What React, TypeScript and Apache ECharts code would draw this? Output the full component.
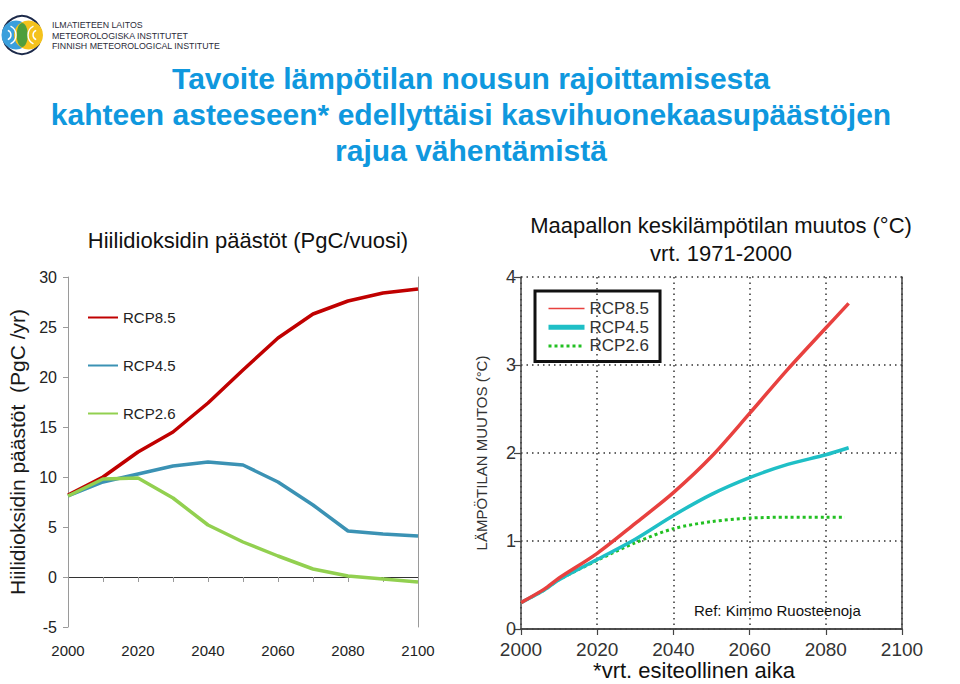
import React, { useEffect, useRef } from "react";
import * as echarts from "echarts";

// ---- Data ----
const emisYears = [2000, 2010, 2020, 2030, 2040, 2050, 2060, 2070, 2080, 2090, 2100];
const emisRcp85 = [8.2, 10.0, 12.5, 14.5, 17.4, 20.7, 23.9, 26.3, 27.6, 28.4, 28.8];
const emisRcp45 = [8.1, 9.5, 10.3, 11.1, 11.5, 11.2, 9.5, 7.2, 4.6, 4.3, 4.1];
const emisRcp26 = [8.1, 9.8, 9.9, 7.9, 5.2, 3.5, 2.1, 0.8, 0.1, -0.2, -0.5];

const tempYears = [2000, 2006, 2010, 2020, 2030, 2040, 2050, 2060, 2070, 2080, 2086];
const tempRcp85 = [0.3, 0.45, 0.58, 0.86, 1.2, 1.55, 1.96, 2.45, 2.95, 3.42, 3.7];
const tempRcp45 = [0.3, 0.44, 0.56, 0.79, 1.02, 1.29, 1.53, 1.72, 1.87, 1.98, 2.06];
const tempYears26 = [2000, 2006, 2010, 2020, 2030, 2040, 2050, 2060, 2070, 2080, 2085];
const tempRcp26 = [0.3, 0.44, 0.56, 0.78, 0.98, 1.14, 1.22, 1.26, 1.27, 1.27, 1.27];

const scenarioNames = ["RCP8.5", "RCP4.5", "RCP2.6"];

const titleLines = [
  "Tavoite lämpötilan nousun rajoittamisesta",
  "kahteen asteeseen* edellyttäisi kasvihuonekaasupäästöjen",
  "rajua vähentämistä",
];
const leftTitle = "Hiilidioksidin päästöt (PgC/vuosi)";
const rightTitle1 = "Maapallon keskilämpötilan muutos (°C)";
const rightTitle2 = "vrt. 1971-2000";
const leftYName = "Hiilidioksidin päästöt  (PgC /yr)";
const rightYName = "LÄMPÖTILAN MUUTOS (°C)";
const refText = "Ref: Kimmo Ruosteenoja";
const footText = "*vrt. esiteollinen aika";
const logoLines = ["ILMATIETEEN LAITOS", "METEOROLOGISKA INSTITUTET", "FINNISH METEOROLOGICAL INSTITUTE"];

const zip = (xs: number[], ys: number[]) => xs.map((x, i) => [x, ys[i]]);

const SANS = "'Liberation Sans', Arial, sans-serif";

export default function App() {
  const ref = useRef<HTMLDivElement>(null);
  useEffect(() => {
    if (!ref.current) return;
    const chart = echarts.init(ref.current, undefined, { renderer: "svg" });
    const leftColors = ["#c00000", "#3b92b4", "#92d050"];
    const rc = { r85: "#e8413f", r45: "#1fbfc6", r26: "#22c022" };

    const option: any = {
      animation: false,
      backgroundColor: "#ffffff",
      grid: [
        { left: 68, top: 277, width: 350, height: 350 },
        { left: 521, top: 277, width: 381, height: 352 },
      ],
      xAxis: [
        {
          gridIndex: 0, type: "value", min: 2000, max: 2100, interval: 10,
          axisLine: { lineStyle: { color: "#9a9a9a", width: 1 } },
          axisTick: { show: true, length: 5, lineStyle: { color: "#9a9a9a" } },
          splitLine: { show: false },
          axisLabel: {
            formatter: (v: number) => (v % 20 === 0 ? String(v) : ""),
            fontSize: 15, color: "#222", margin: 16, fontFamily: SANS,
          },
        },
        {
          gridIndex: 0, type: "value", min: 2000, max: 2100, position: "top",
          axisLine: { show: true, lineStyle: { color: "#333", width: 1 } },
          axisTick: { show: false }, axisLabel: { show: false }, splitLine: { show: false },
        },
        {
          gridIndex: 1, type: "value", min: 2000, max: 2100, interval: 20,
          axisLine: { lineStyle: { color: "#444", width: 1.5 } },
          axisTick: { show: true, length: 6, lineStyle: { color: "#444", width: 1.2 } },
          splitLine: { show: true, lineStyle: { color: "#333", type: [1.5, 4], width: 1.5 } },
          axisLabel: {
            formatter: (v: number) => String(v),
            fontSize: 19, lineHeight: 14, color: "#333", margin: 13, fontFamily: SANS,
          },
        },
        {
          gridIndex: 1, type: "value", min: 2000, max: 2100, position: "top",
          axisLine: { show: true, lineStyle: { color: "#444", width: 1.5 } },
          axisTick: { show: false }, axisLabel: { show: false }, splitLine: { show: false },
        },
      ],
      yAxis: [
        {
          gridIndex: 0, type: "value", min: -5, max: 30, interval: 5,
          axisLine: { show: true, lineStyle: { color: "#9a9a9a", width: 1 } },
          axisTick: { show: true, length: 5, lineStyle: { color: "#9a9a9a" } },
          splitLine: { show: false },
          axisLabel: { fontSize: 16, color: "#222", margin: 11, fontFamily: SANS },
          name: leftYName, nameLocation: "middle", nameGap: 40, nameRotate: 90,
          nameTextStyle: { fontSize: 21, color: "#1a1a1a", fontFamily: SANS },
        },
        {
          gridIndex: 0, type: "value", min: -5, max: 30, position: "right",
          axisLine: { show: true, lineStyle: { color: "#9a9a9a", width: 1 } },
          axisTick: { show: false }, axisLabel: { show: false }, splitLine: { show: false },
        },
        {
          gridIndex: 1, type: "value", min: 0, max: 4, interval: 1,
          axisLine: { show: true, lineStyle: { color: "#444", width: 1.5 } },
          axisTick: { show: true, length: 7, lineStyle: { color: "#444", width: 1.2 } },
          splitLine: { show: true, lineStyle: { color: "#333", type: [1.5, 4], width: 1.5 } },
          axisLabel: { fontSize: 18, lineHeight: 14, color: "#333", margin: 5, fontFamily: SANS },
          name: rightYName, nameLocation: "middle", nameGap: 32, nameRotate: 90,
          nameTextStyle: { fontSize: 15, color: "#333", fontFamily: SANS },
        },
        {
          gridIndex: 1, type: "value", min: 0, max: 4, position: "right",
          axisLine: { show: true, lineStyle: { color: "#444", width: 1.5 } },
          axisTick: { show: false }, axisLabel: { show: false }, splitLine: { show: false },
        },
      ],
      legend: [
        {
          data: scenarioNames,
          orient: "vertical", left: 87, top: 310, padding: 0,
          itemWidth: 30, itemHeight: 14, itemGap: 33, selectedMode: false,
          itemStyle: { opacity: 0 },
          textStyle: { fontSize: 15, lineHeight: 14, color: "#222", fontFamily: SANS },
        },
        {
          data: [
            { name: scenarioNames[0] + " ", lineStyle: { width: 1.5 } },
            { name: scenarioNames[1] + " ", lineStyle: { width: 5 } },
            { name: scenarioNames[2] + " ", lineStyle: { width: 3 } },
          ],
          formatter: (n: string) => n.trim(),
          orient: "vertical", left: 535, top: 291,
          padding: [9, 11, 7, 11],
          itemWidth: 36, itemHeight: 14, itemGap: 1.7, selectedMode: false,
          borderColor: "#111", borderWidth: 3,
          itemStyle: { opacity: 0 },
          textStyle: { fontSize: 17, lineHeight: 16, color: "#333", fontFamily: SANS },
        },
      ],
      series: [
        {
          name: scenarioNames[0], type: "line", xAxisIndex: 0, yAxisIndex: 0,
          data: zip(emisYears, emisRcp85), symbol: "none",
          lineStyle: { color: leftColors[0], width: 3.5 }, itemStyle: { color: leftColors[0] },
        },
        {
          name: scenarioNames[1], type: "line", xAxisIndex: 0, yAxisIndex: 0,
          data: zip(emisYears, emisRcp45), symbol: "none",
          lineStyle: { color: leftColors[1], width: 3.5 }, itemStyle: { color: leftColors[1] },
        },
        {
          name: scenarioNames[2], type: "line", xAxisIndex: 0, yAxisIndex: 0,
          data: zip(emisYears, emisRcp26), symbol: "none",
          lineStyle: { color: leftColors[2], width: 3.5 }, itemStyle: { color: leftColors[2] },
        },
        {
          name: scenarioNames[2] + " ", type: "line", xAxisIndex: 2, yAxisIndex: 2,
          data: zip(tempYears26, tempRcp26), symbol: "none", smooth: 0.3,
          lineStyle: { color: rc.r26, width: 3, type: "dotted" }, itemStyle: { color: rc.r26 },
        },
        {
          name: scenarioNames[1] + " ", type: "line", xAxisIndex: 2, yAxisIndex: 2,
          data: zip(tempYears, tempRcp45), symbol: "none", smooth: 0.3,
          lineStyle: { color: rc.r45, width: 3.5 }, itemStyle: { color: rc.r45 },
        },
        {
          name: scenarioNames[0] + " ", type: "line", xAxisIndex: 2, yAxisIndex: 2,
          data: zip(tempYears, tempRcp85), symbol: "none", smooth: 0.3,
          lineStyle: { color: rc.r85, width: 3.5 }, itemStyle: { color: rc.r85 },
        },
      ],
      graphic: [
        // logo
        { type: "circle", shape: { cx: 22, cy: 35, r: 19 }, style: { fill: "#ffffff", stroke: "#1d2a4a", lineWidth: 2 } },
        { type: "circle", shape: { cx: 16, cy: 35, r: 14.5 }, style: { fill: "#3a9fdc" } },
        { type: "circle", shape: { cx: 28.5, cy: 35, r: 14.5 }, style: { fill: "#f4c21c" } },
        { type: "ellipse", shape: { cx: 22.2, cy: 35, rx: 5.5, ry: 12 }, style: { fill: "#4f9e3c" } },
        { type: "arc", shape: { cx: 6, cy: 35, r: 5, startAngle: -1.2, endAngle: 1.2 }, style: { stroke: "#fff", lineWidth: 1.4, fill: "none" } },
        { type: "arc", shape: { cx: 6, cy: 35, r: 10, startAngle: -1.1, endAngle: 1.1 }, style: { stroke: "#fff", lineWidth: 1.4, fill: "none" } },
        { type: "arc", shape: { cx: 38, cy: 35, r: 5, startAngle: Math.PI - 1.2, endAngle: Math.PI + 1.2 }, style: { stroke: "#fff", lineWidth: 1.4, fill: "none" } },
        { type: "arc", shape: { cx: 38, cy: 35, r: 10, startAngle: Math.PI - 1.1, endAngle: Math.PI + 1.1 }, style: { stroke: "#fff", lineWidth: 1.4, fill: "none" } },
        ...logoLines.map((t, i) => ({
          type: "text", x: 52, y: 25 + i * 10.5,
          style: { text: t, fill: "#2b2b3a", font: `8.8px ${SANS}`, textVerticalAlign: "middle" },
        })),
        // main title
        ...titleLines.map((t, i) => ({
          type: "text", x: 471, y: 78 + i * 36,
          style: { text: t, fill: "#0f98de", font: `bold 30px ${SANS}`, textAlign: "center", textVerticalAlign: "middle" },
        })),
        { type: "text", x: 248, y: 240, style: { text: leftTitle, fill: "#111", font: `22px ${SANS}`, textAlign: "center", textVerticalAlign: "middle" } },
        { type: "text", x: 721, y: 225, style: { text: rightTitle1, fill: "#111", font: `22px ${SANS}`, textAlign: "center", textVerticalAlign: "middle" } },
        { type: "text", x: 721, y: 253, style: { text: rightTitle2, fill: "#111", font: `22px ${SANS}`, textAlign: "center", textVerticalAlign: "middle" } },
        { type: "text", x: 694, y: 610, style: { text: refText, fill: "#111", font: `15px ${SANS}`, textVerticalAlign: "middle" } },
        { type: "text", x: 694, y: 670, style: { text: footText, fill: "#111", font: `22px ${SANS}`, textAlign: "center", textVerticalAlign: "middle" } },
      ],
    };
    chart.setOption(option);
    return () => chart.dispose();
  }, []);
  return (
    <div
      ref={ref}
      style={{ position: "fixed", left: 0, top: 0, width: 960, height: 684, background: "#fff" }}
    />
  );
}
